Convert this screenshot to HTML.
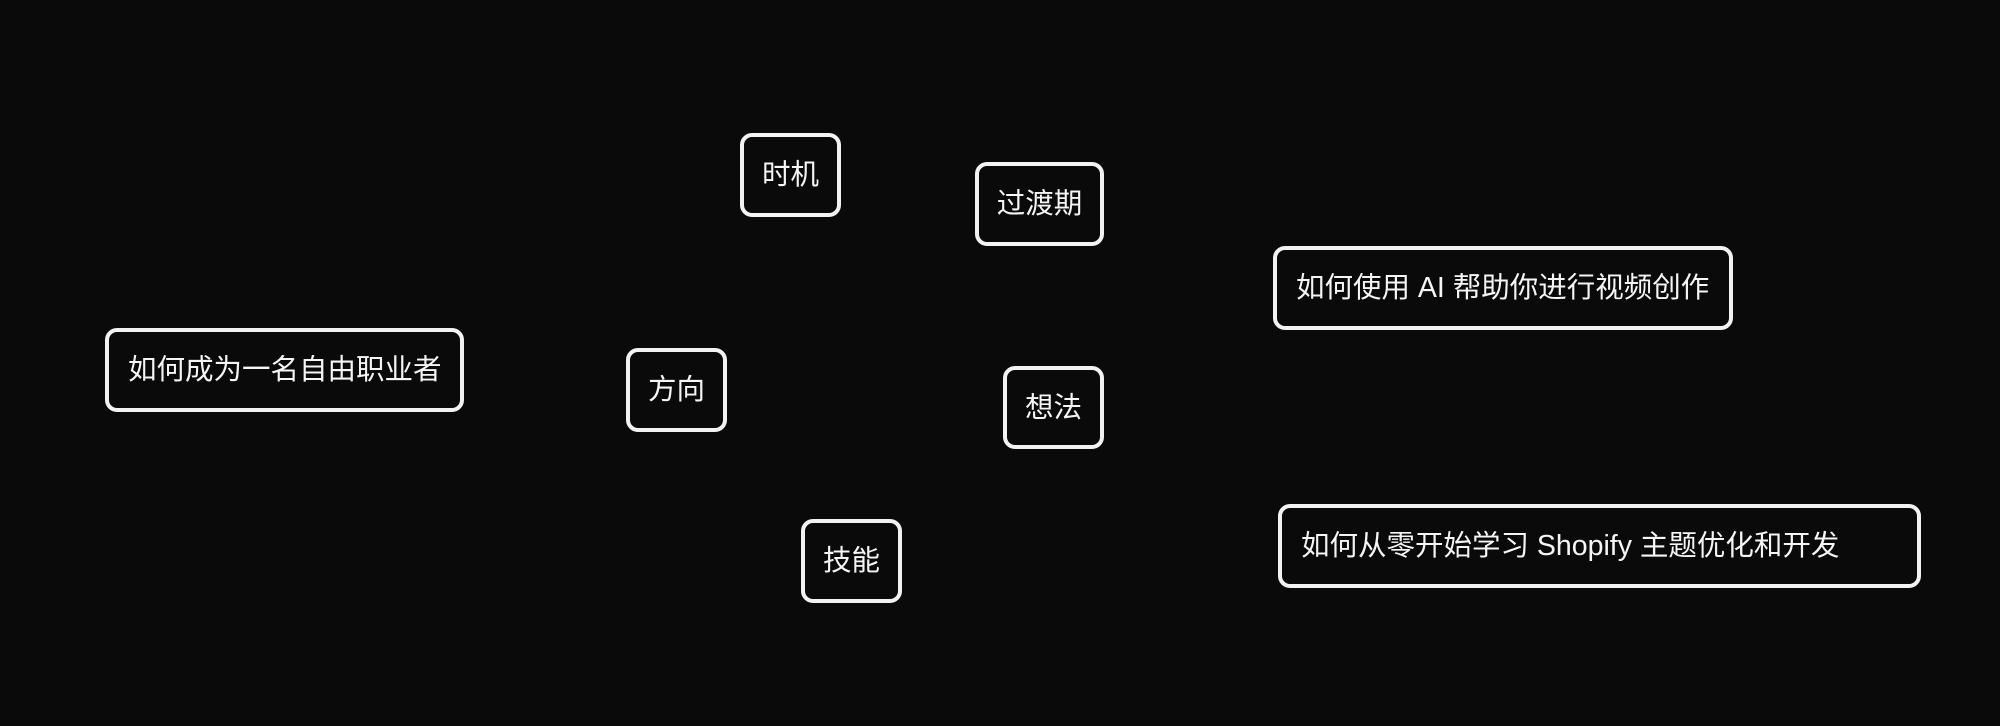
<!DOCTYPE html>
<html><head><meta charset="utf-8"><style>
html,body{margin:0;padding:0;background:#0a0a0a;}
body{width:2000px;height:726px;position:relative;overflow:hidden;font-family:"Liberation Sans","Noto Sans CJK SC",sans-serif;}
.b{position:absolute;box-sizing:border-box;border:4px solid #f2f2f2;border-radius:12px;color:#f5f5f5;font-size:28.5px;display:flex;align-items:center;white-space:nowrap;padding-bottom:5px;}
.c{justify-content:center;}
.l{padding-left:19px;}
</style></head><body>
<div class="b c" style="left:740px;top:133px;width:101px;height:84px;">时机</div>
<div class="b c" style="left:975px;top:162px;width:129px;height:84px;">过渡期</div>
<div class="b l" style="left:105px;top:328px;width:359px;height:84px;">如何成为一名自由职业者</div>
<div class="b c" style="left:626px;top:348px;width:101px;height:84px;">方向</div>
<div class="b c" style="left:801px;top:519px;width:101px;height:84px;">技能</div>
<div class="b l" style="left:1273px;top:246px;width:460px;height:84px;">如何使用 AI 帮助你进行视频创作</div>
<div class="b c" style="left:1003px;top:366px;width:101px;height:83px;">想法</div>
<div class="b l" style="left:1278px;top:504px;width:643px;height:84px;">如何从零开始学习 Shopify 主题优化和开发</div>
</body></html>
